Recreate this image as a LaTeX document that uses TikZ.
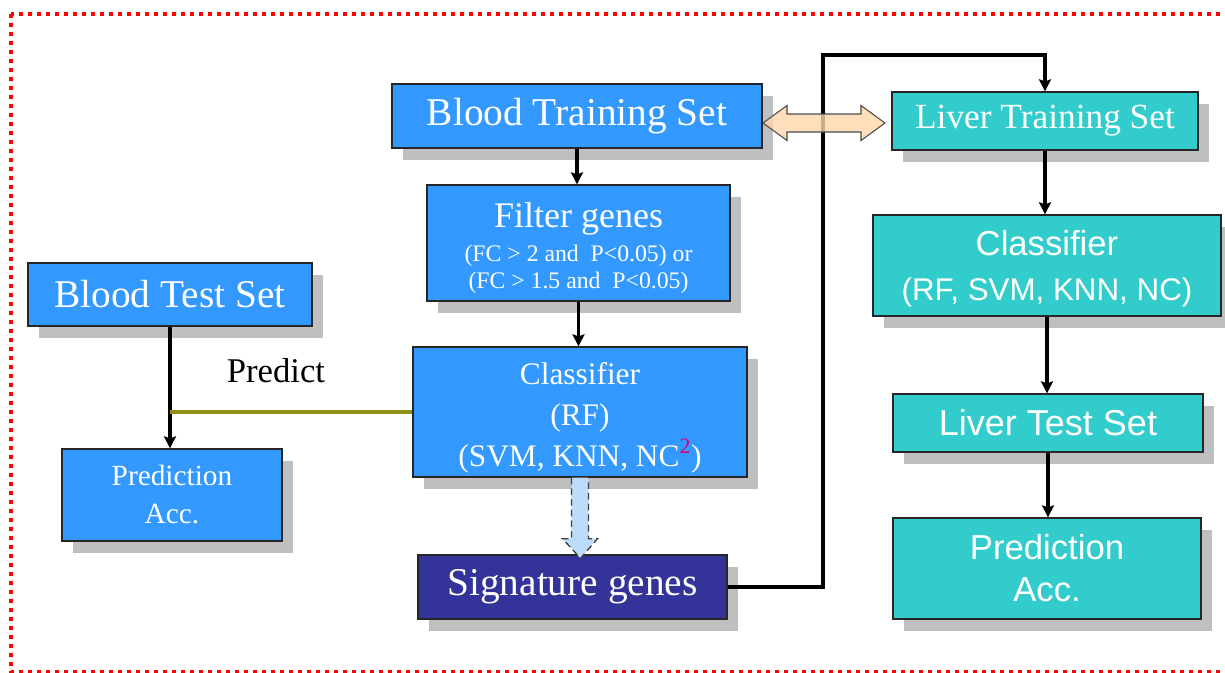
\documentclass[tikz,border=0pt]{standalone}
\usepackage{fontspec}
\setmainfont{Liberation Serif}
\setsansfont{Liberation Sans}
\usetikzlibrary{shadows,calc,arrows.meta}
\definecolor{bblue}{RGB}{51,153,255}
\definecolor{tealbox}{RGB}{51,204,204}
\definecolor{dblue}{RGB}{51,51,153}
\definecolor{shade}{RGB}{191,191,191}
\definecolor{peach}{RGB}{255,214,170}
\definecolor{ltblue}{RGB}{189,220,250}
\definecolor{olivel}{RGB}{145,145,25}
\definecolor{mag}{RGB}{220,0,120}
\begin{document}
\begin{tikzpicture}[x=0.75pt,y=-0.75pt,
  box/.style={draw=black!85, line width=1pt, text=white, inner sep=0pt, align=center,
    general shadow={fill=shade, shadow xshift=8.25pt, shadow yshift=-9pt}},
  bluebox/.style={box, fill=bblue},
  tealbox/.style={box, fill=tealbox},
  darkbox/.style={box, fill=dblue},
  arr/.style={line width=2.3pt, -{Stealth[length=9pt,width=9pt,inset=1.5pt]}},
]
\useasboundingbox (0,0) rectangle (1225,672);
\begin{scope}
  \clip (0,0) rectangle (1225,672);
  \draw[red, line width=3pt, dash pattern=on 3pt off 3.75pt] (11,13.5) rectangle (1240,671.5);
\end{scope}

% blood side
\node[bluebox, minimum width=277.5pt, minimum height=48pt, font=\fontsize{29.5}{32}\selectfont] (bts) at (577,116) {Blood Training Set};
\node[bluebox, minimum width=227.25pt, minimum height=87pt, font=\fontsize{17.8}{20.3}\selectfont] (flt) at (578.5,243)
  {{\fontsize{27}{27}\selectfont\rule{0pt}{26pt}Filter genes}\\[5.2pt]
   (FC > 2 and\ \ P<0.05) or\\
   (FC > 1.5 and\ \ P<0.05)};
\node[bluebox, minimum width=250.5pt, minimum height=97.5pt, font=\fontsize{23.5}{30.5}\selectfont] (cls) at (580,412)
  {\rule{0pt}{25pt}Classifier\\(RF)\\(SVM, KNN, NC\textsuperscript{\textcolor{mag}{2}})};
\node[darkbox, minimum width=231.75pt, minimum height=48pt, font=\fontsize{29.5}{32}\selectfont] (sig) at (572.5,587) {Signature genes};
\node[bluebox, minimum width=213pt, minimum height=47.25pt, font=\fontsize{29.5}{32}\selectfont] (bte) at (170,294.5) {Blood Test Set};
\node[bluebox, minimum width=165pt, minimum height=69pt, font=\fontsize{22}{28.5}\selectfont] (bpa) at (172,495) {Prediction\\Acc.};
\node[font=\fontsize{26}{28}\selectfont] (pred) at (276,371) {Predict};

% liver side
\node[tealbox, minimum width=229.5pt, minimum height=43.5pt, font=\fontsize{26.5}{30}\selectfont] (lts) at (1045,121) {Liver Training Set};
\node[tealbox, minimum width=261pt, minimum height=75.75pt, font=\sffamily\fontsize{23.5}{33.75}\selectfont] (lcl) at (1047,265.5)
  {{\fontsize{26}{30}\selectfont\rule{0pt}{23.5pt}Classifier}\\
   (RF, SVM, KNN, NC)};
\node[tealbox, minimum width=232.5pt, minimum height=43.5pt, font=\sffamily\fontsize{27}{30}\selectfont] (lte) at (1048,423) {Liver Test Set};
\node[tealbox, minimum width=231pt, minimum height=75.75pt, font=\sffamily\fontsize{26}{31.5}\selectfont] (lpa) at (1047,568.5) {Prediction\\Acc.};

% connectors
\draw[arr] (bts.south) -- (bts.south |- flt.north);
\draw[arr] (flt.south) -- (flt.south |- cls.north);
\draw[arr] (bte.south) -- (bte.south |- bpa.north);
\coordinate (pj) at (bte.south |- cls.west);
\draw[olivel, line width=2.5pt] (pj) -- (cls.west);

% hollow dashed arrow classifier -> signature
\draw[fill=ltblue, draw=black!75, line width=1pt, dash pattern=on 5pt off 3pt]
  ($(cls.south)+(-8.5,0)$) -- ($(cls.south)+(-8.5,61)$) -- ($(cls.south)+(-17.5,61)$) -- ($(sig.north)+(8,4)$)
  -- ($(cls.south)+(17.5,61)$) -- ($(cls.south)+(8.5,61)$) -- ($(cls.south)+(8.5,0)$);

% signature -> liver training
\coordinate (up) at (823,55);
\draw[arr] (sig.east) -| (up) -| (lts.north);

% double arrow between training sets
\coordinate (dal) at (763,123);
\coordinate (dar) at (885,123);
\draw[fill=peach, fill opacity=0.8, draw=black!70, line width=0.8pt, line join=miter]
  (dal) -- ($(dal)+(24,-17.5)$) -- ($(dal)+(24,-9)$) -- ($(dar)+(-24,-9)$) -- ($(dar)+(-24,-17.5)$)
  -- (dar) -- ($(dar)+(-24,17.5)$) -- ($(dar)+(-24,9)$) -- ($(dal)+(24,9)$) -- ($(dal)+(24,17.5)$) -- cycle;

\draw[arr] (lts.south) -- (lts.south |- lcl.north);
\draw[arr] (lcl.south) -- (lcl.south |- lte.north);
\draw[arr] (lte.south) -- (lte.south |- lpa.north);
\end{tikzpicture}
\end{document}
